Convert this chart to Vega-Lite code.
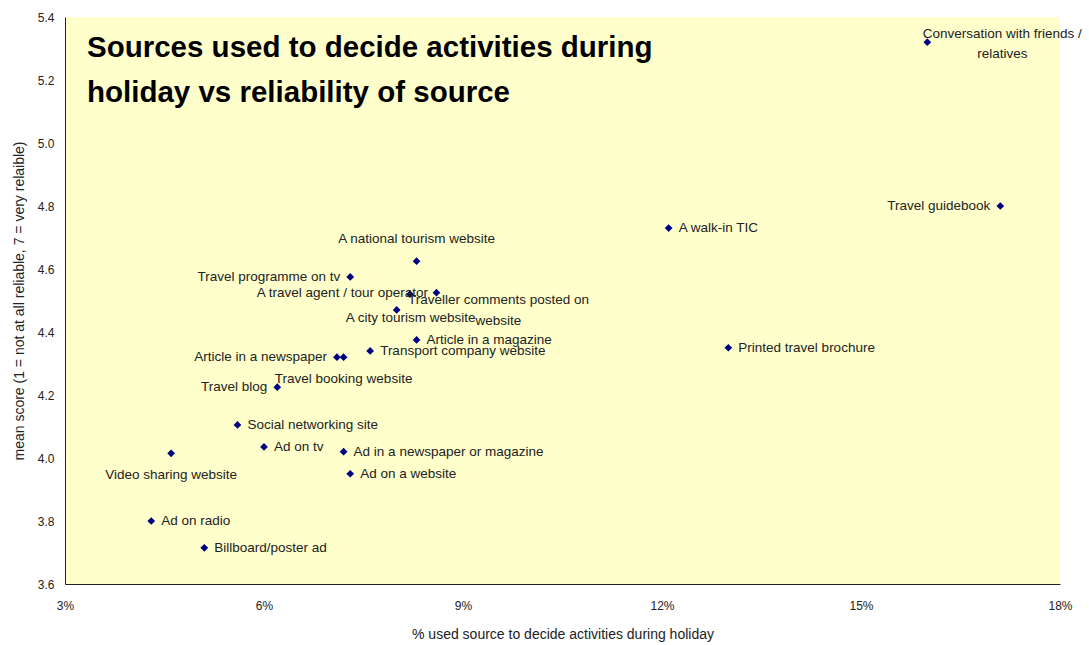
{
  "$schema": "https://vega.github.io/schema/vega-lite/v6.json",
  "width": 995,
  "height": 567,
  "autosize": {"type": "none"},
  "padding": {"left": 65, "top": 17, "right": 29, "bottom": 61},
  "background": "white",
  "title": {
    "text": ["Sources used to decide activities during", "holiday vs reliability of source"],
    "anchor": "start",
    "frame": "group",
    "orient": "top",
    "offset": -120,
    "dx": 22,
    "baseline": "alphabetic",
    "font": "Liberation Sans",
    "fontSize": 29.5,
    "fontWeight": "bold",
    "color": "#000000",
    "lineHeight": 45
  },
  "config": {
    "view": {"fill": "#FFFFCC", "stroke": null},
    "axis": {
      "grid": false,
      "ticks": false,
      "tickSize": 0,
      "domainColor": "#222222",
      "labelFont": "Liberation Sans",
      "labelFontSize": 12,
      "labelColor": "#222222",
      "titleFont": "Liberation Sans",
      "titleFontSize": 14,
      "titleFontWeight": "normal",
      "titleColor": "#222222"
    }
  },
  "data": {
    "values": [
      {"source": "Conversation with friends /\nrelatives", "pct": 16.0, "score": 5.32},
      {"source": "Travel guidebook", "pct": 17.1, "score": 4.80},
      {"source": "A walk-in TIC", "pct": 12.1, "score": 4.73},
      {"source": "Printed travel brochure", "pct": 13.0, "score": 4.35},
      {"source": "A national tourism website", "pct": 8.3, "score": 4.625},
      {"source": "Travel programme on tv", "pct": 7.3, "score": 4.575},
      {"source": "A travel agent / tour operator", "pct": 8.2, "score": 4.52},
      {"source": "Traveller comments posted on\nwebsite", "pct": 8.6, "score": 4.525},
      {"source": "A city tourism website", "pct": 8.0, "score": 4.47},
      {"source": "Article in a magazine", "pct": 8.3, "score": 4.375},
      {"source": "Transport company website", "pct": 7.6, "score": 4.34},
      {"source": "Article in a newspaper", "pct": 7.1, "score": 4.32},
      {"source": "Travel booking website", "pct": 7.2, "score": 4.32},
      {"source": "Travel blog", "pct": 6.2, "score": 4.225},
      {"source": "Social networking site", "pct": 5.6, "score": 4.105},
      {"source": "Ad on tv", "pct": 6.0, "score": 4.035},
      {"source": "Video sharing website", "pct": 4.6, "score": 4.015},
      {"source": "Ad in a newspaper or magazine", "pct": 7.2, "score": 4.02},
      {"source": "Ad on a website", "pct": 7.3, "score": 3.95},
      {"source": "Ad on radio", "pct": 4.3, "score": 3.80},
      {"source": "Billboard/poster ad", "pct": 5.1, "score": 3.715}
    ]
  },
  "encoding": {
    "x": {
      "field": "pct",
      "type": "quantitative",
      "scale": {"domain": [3, 18], "nice": false, "zero": false},
      "axis": {
        "title": "% used source to decide activities during holiday",
        "values": [3, 6, 9, 12, 15, 18],
        "labelExpr": "datum.value + '%'",
        "labelPadding": 16,
        "titlePadding": 16,
        "labelFlush": false
      }
    },
    "y": {
      "field": "score",
      "type": "quantitative",
      "scale": {"domain": [3.6, 5.4], "nice": false, "zero": false},
      "axis": {
        "title": "mean score (1 = not at all reliable, 7 = very relaible)",
        "values": [3.6, 3.8, 4.0, 4.2, 4.4, 4.6, 4.8, 5.0, 5.2, 5.4],
        "format": ".1f",
        "labelPadding": 11,
        "titlePadding": 11,
        "labelFlush": false
      }
    }
  },
  "layer": [
    {
      "mark": {"type": "point", "shape": "diamond", "filled": true, "color": "#000080", "size": 60, "opacity": 1}
    },
    {
      "transform": [{"filter": {"field": "source", "oneOf": ["A walk-in TIC", "Printed travel brochure", "Article in a magazine", "Transport company website", "Social networking site", "Ad on tv", "Ad in a newspaper or magazine", "Ad on a website", "Ad on radio", "Billboard/poster ad"]}}],
      "mark": {"type": "text", "align": "left", "baseline": "middle", "dx": 10, "font": "Liberation Sans", "fontSize": 13.5, "color": "#222222"},
      "encoding": {"text": {"field": "source"}}
    },
    {
      "transform": [{"filter": {"field": "source", "oneOf": ["Travel guidebook", "Travel programme on tv", "Article in a newspaper", "Travel blog"]}}],
      "mark": {"type": "text", "align": "right", "baseline": "middle", "dx": -10, "font": "Liberation Sans", "fontSize": 13.5, "color": "#222222"},
      "encoding": {"text": {"field": "source"}}
    },
    {
      "transform": [{"filter": {"field": "source", "oneOf": ["Travel booking website", "Video sharing website"]}}],
      "mark": {"type": "text", "align": "center", "baseline": "middle", "dy": 22, "font": "Liberation Sans", "fontSize": 13.5, "color": "#222222"},
      "encoding": {"text": {"field": "source"}}
    },
    {
      "transform": [{"filter": {"field": "source", "equal": "A national tourism website"}}],
      "mark": {"type": "text", "align": "center", "baseline": "middle", "dy": -22, "font": "Liberation Sans", "fontSize": 13.5, "color": "#222222"},
      "encoding": {"text": {"field": "source"}}
    },
    {
      "transform": [{"filter": {"field": "source", "equal": "Conversation with friends /\nrelatives"}}],
      "mark": {"type": "text", "align": "center", "baseline": "middle", "dx": 75, "dy": -8, "lineBreak": "\n", "lineHeight": 20, "font": "Liberation Sans", "fontSize": 13.5, "color": "#222222"},
      "encoding": {"text": {"field": "source"}}
    },
    {
      "transform": [{"filter": {"field": "source", "equal": "Traveller comments posted on\nwebsite"}}],
      "mark": {"type": "text", "align": "center", "baseline": "middle", "dx": 62, "dy": 7, "lineBreak": "\n", "lineHeight": 21, "font": "Liberation Sans", "fontSize": 13.5, "color": "#222222"},
      "encoding": {"text": {"field": "source"}}
    },
    {
      "transform": [{"filter": {"field": "source", "equal": "A city tourism website"}}],
      "mark": {"type": "text", "align": "center", "baseline": "middle", "dx": 14, "dy": 8, "font": "Liberation Sans", "fontSize": 13.5, "color": "#222222"},
      "encoding": {"text": {"field": "source"}}
    },
    {
      "transform": [{"filter": {"field": "source", "equal": "A travel agent / tour operator"}}],
      "mark": {"type": "text", "align": "right", "baseline": "middle", "dx": 18, "dy": -1, "font": "Liberation Sans", "fontSize": 13.5, "color": "#222222"},
      "encoding": {"text": {"field": "source"}}
    }
  ]
}
